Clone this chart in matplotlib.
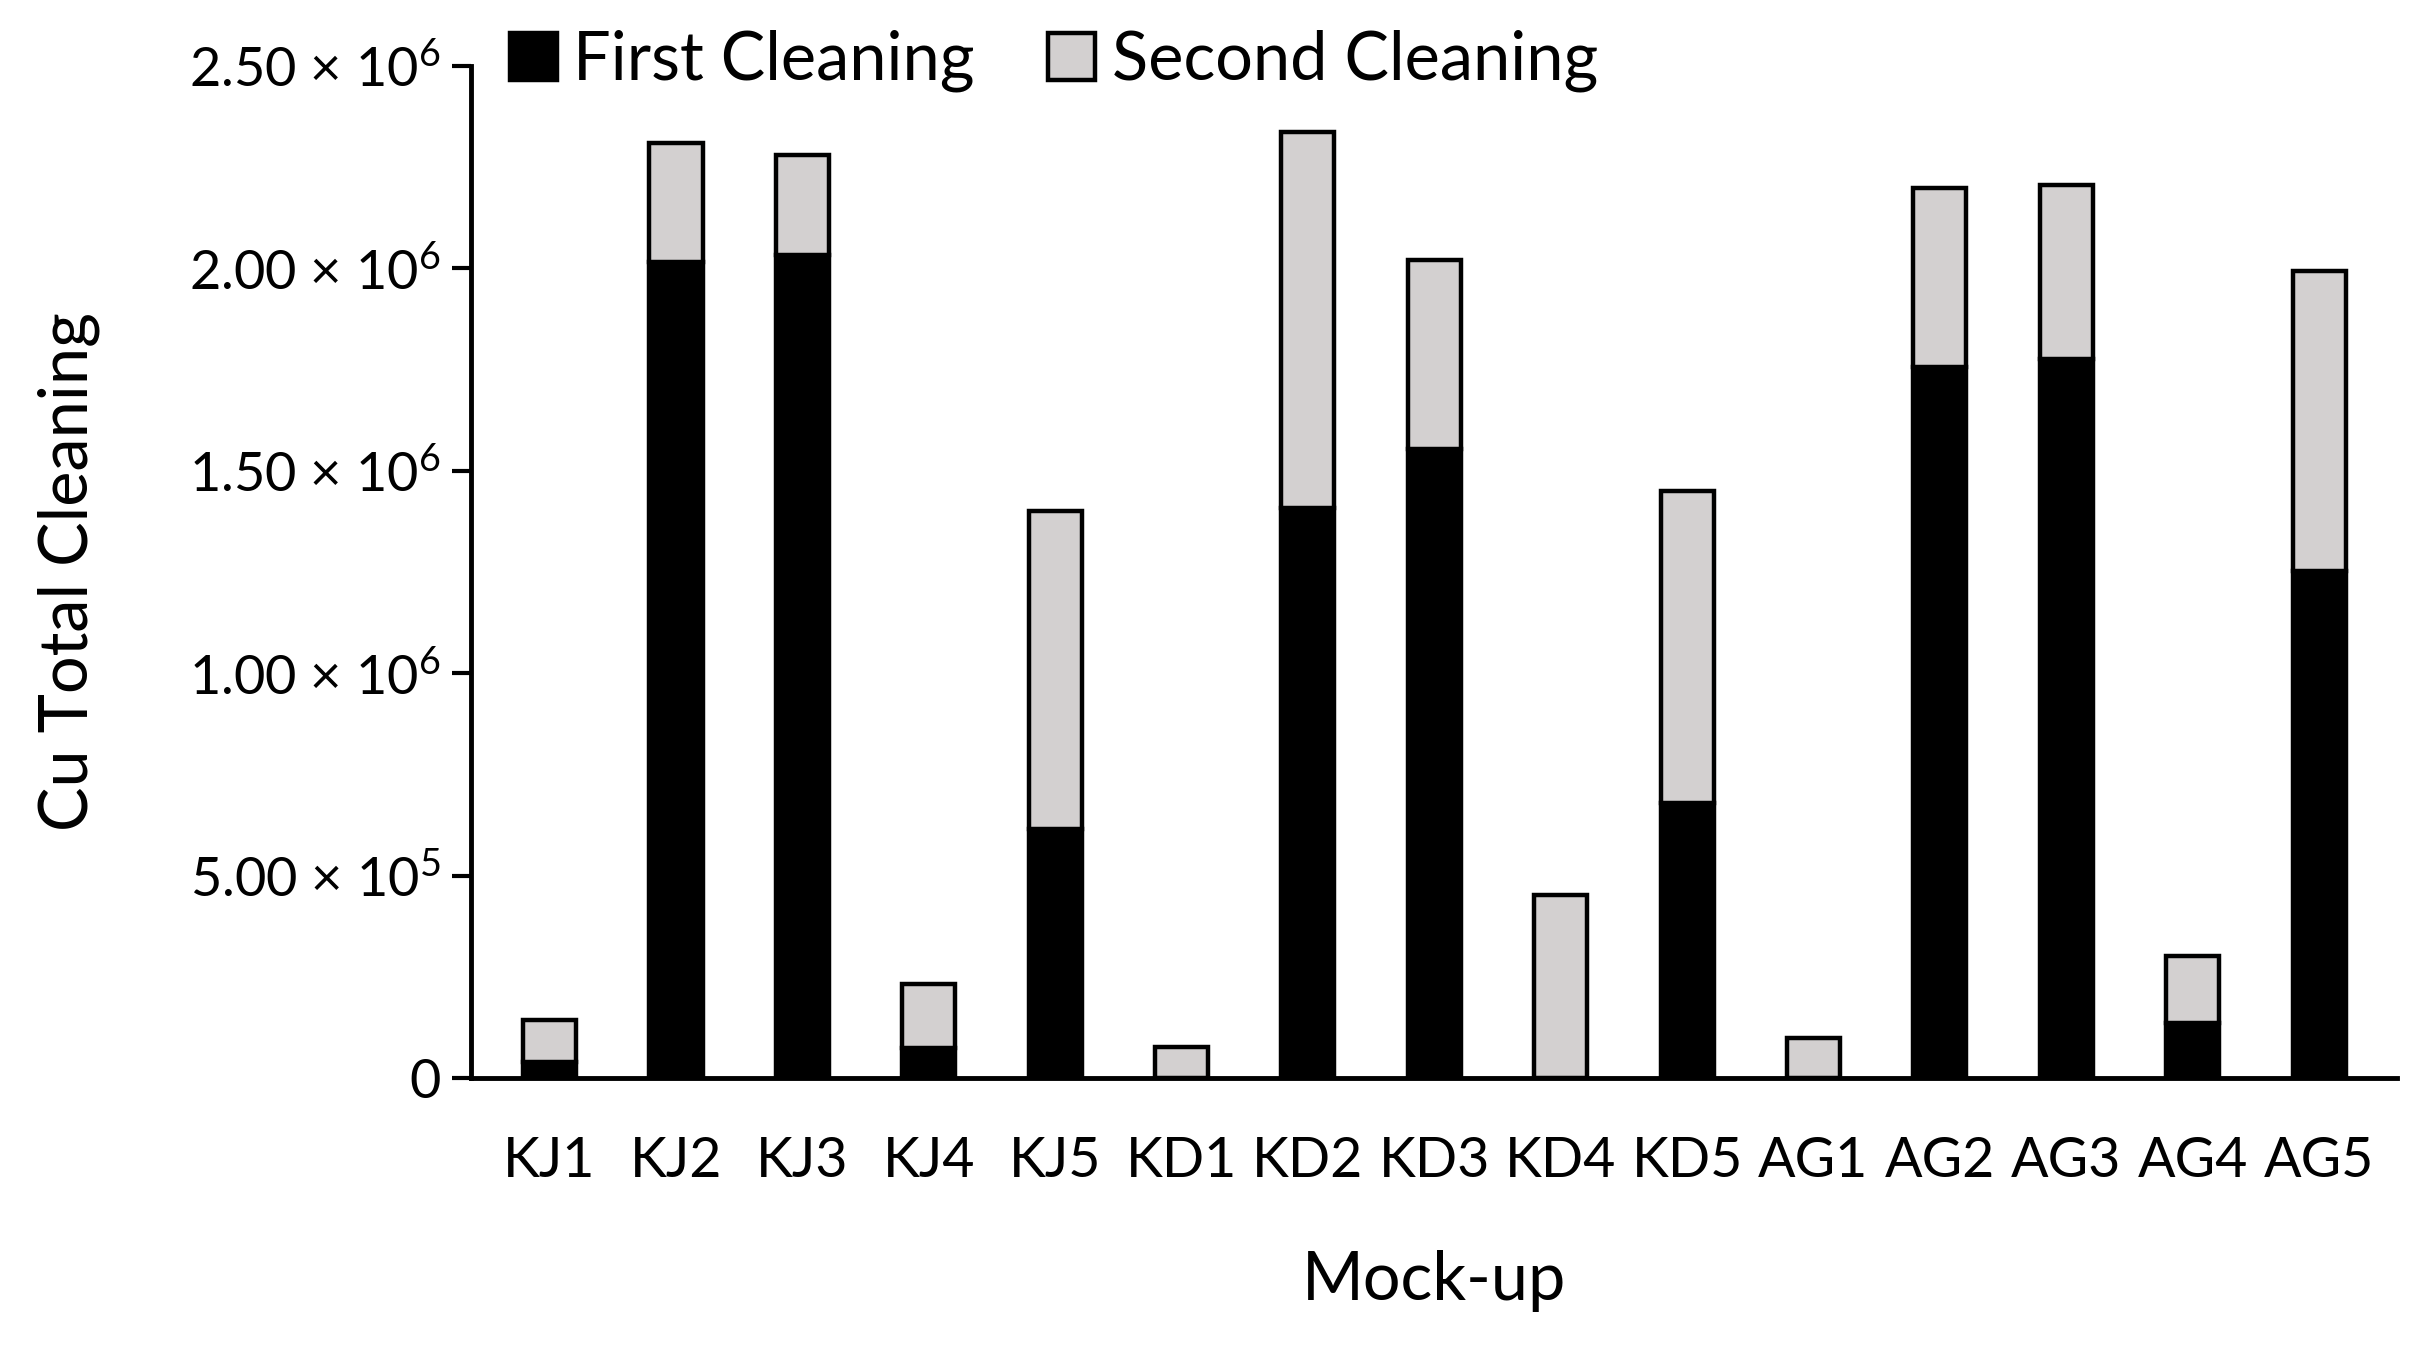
import numpy as np
import matplotlib.pyplot as plt

plt.rcParams['font.family'] = ['Lato', 'DejaVu Sans']
plt.rcParams['mathtext.fontset'] = 'custom'
plt.rcParams['mathtext.rm'] = 'Lato'
plt.rcParams['mathtext.it'] = 'Lato:italic'

# Data
mockups = ['KJ1', 'KJ2', 'KJ3', 'KJ4', 'KJ5',
           'KD1', 'KD2', 'KD3', 'KD4', 'KD5',
           'AG1', 'AG2', 'AG3', 'AG4', 'AG5']
first_cleaning = [0.039e6, 2.017e6, 2.033e6, 0.074e6, 0.614e6,
                  0.0, 1.407e6, 1.554e6, 0.0, 0.680e6,
                  0.0, 1.757e6, 1.777e6, 0.136e6, 1.252e6]
total_cleaning = [0.144e6, 2.309e6, 2.281e6, 0.233e6, 1.401e6,
                  0.077e6, 2.338e6, 2.021e6, 0.453e6, 1.449e6,
                  0.098e6, 2.199e6, 2.207e6, 0.300e6, 1.994e6]
second_cleaning = [t - f for t, f in zip(total_cleaning, first_cleaning)]

yticks = [0, 5e5, 1e6, 1.5e6, 2e6, 2.5e6]
ytick_labels = ['0', r'5.00 × 10$^{5}$', r'1.00 × 10$^{6}$', r'1.50 × 10$^{6}$',
                r'2.00 × 10$^{6}$', r'2.50 × 10$^{6}$']

fig = plt.figure(figsize=(24.29, 13.49), dpi=100)
ax = fig.add_axes([0.194, 0.201, 0.793, 0.750])

x = np.arange(len(mockups))
w = 0.42
ax.bar(x, first_cleaning, w, color='black', edgecolor='black', linewidth=3.2,
       label='First Cleaning', zorder=2)
ax.bar(x, second_cleaning, w, bottom=first_cleaning, color='#d3d0d0',
       edgecolor='black', linewidth=3.2, label='Second Cleaning', zorder=2)

ax.set_xlim(-0.62, len(mockups) - 1 + 0.62)
ax.set_ylim(0, 2.5e6)
ax.set_yticks(yticks)
ax.set_yticklabels(ytick_labels)
ax.set_xticks(x)
ax.set_xticklabels(mockups)

ax.tick_params(axis='y', direction='out', length=14, width=3, labelsize=39, pad=8)
ax.tick_params(axis='x', length=0, labelsize=40, pad=42)

for s in ['top', 'right']:
    ax.spines[s].set_visible(False)
for s in ['left', 'bottom']:
    ax.spines[s].set_linewidth(3.5)
ax.spines['bottom'].set_zorder(3)

ax.set_xlabel('Mock-up', fontsize=48, labelpad=45)
ax.set_ylabel('Cu Total Cleaning', fontsize=48, labelpad=64)

ax.legend(loc='upper left', bbox_to_anchor=(0.21, 0.978), bbox_transform=fig.transFigure,
          ncol=2, frameon=False, fontsize=48, handlelength=0.7, handleheight=0.7,
          handletextpad=0.25, columnspacing=1.1, borderpad=0, borderaxespad=0)

fig.savefig('out.png', dpi=100)
